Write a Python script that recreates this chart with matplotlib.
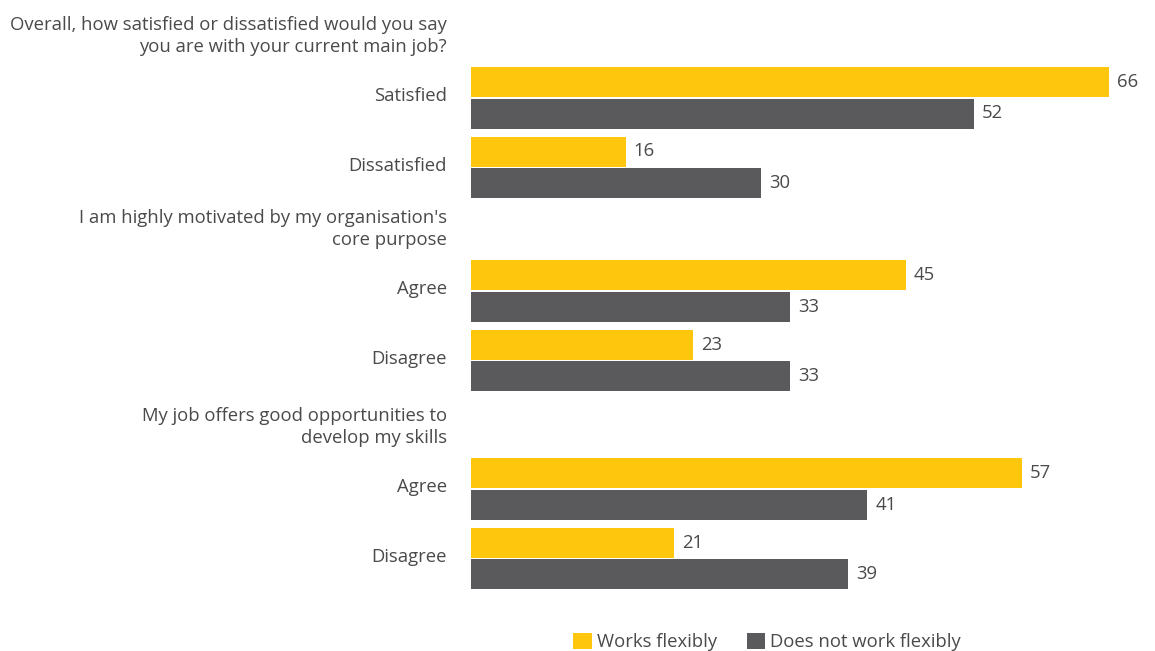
import matplotlib
matplotlib.use("Agg")
import matplotlib.pyplot as plt
from matplotlib.patches import Patch

plt.rcParams['font.family'] = ['Open Sans', 'DejaVu Sans']

# Survey data (percent of respondents)
sections = [
    "Overall, how satisfied or dissatisfied would you say\nyou are with your current main job?",
    "I am highly motivated by my organisation's\ncore purpose",
    "My job offers good opportunities to\ndevelop my skills",
]
categories = [
    ["Satisfied", "Dissatisfied"],
    ["Agree", "Disagree"],
    ["Agree", "Disagree"],
]
works_flexibly = [[66, 16], [45, 23], [57, 21]]
not_flexibly = [[52, 30], [33, 33], [41, 39]]
series_names = ["Works flexibly", "Does not work flexibly"]

YELLOW = "#FEC60C"
GREY = "#5A5A5C"
TEXT = "#4A4A4C"
FS = 13.3

W, H = 1155, 651
fig = plt.figure(figsize=(W / 100, H / 100), dpi=100)
fig.patch.set_facecolor("white")

# axes: x data starts at pixel 471, y data equals pixel rows from the top
x0 = 471
px_per_unit = 9.667
xmax = (W - x0) / px_per_unit
ax = fig.add_axes([x0 / W, 0, (W - x0) / W, 1])
ax.set_xlim(0, xmax)
ax.set_ylim(H, 0)
ax.axis("off")

bar_h = 30
pair_offset = 31.5
pair_pitch = 69.5
section_tops = [67, 260, 458]
heading_gap = 31

for s, top in enumerate(section_tops):
    # section heading (two lines, right aligned to the label column)
    ax.text(-24 / px_per_unit, top - heading_gap, sections[s], ha="right",
            va="center", fontsize=FS, color=TEXT, linespacing=1.35)
    for c, cat in enumerate(categories[s]):
        y_top = top + c * pair_pitch
        y1 = y_top + bar_h / 2
        y2 = y1 + pair_offset
        v1 = works_flexibly[s][c]
        v2 = not_flexibly[s][c]
        ax.barh(y1, v1, height=bar_h, color=YELLOW, left=0)
        ax.barh(y2, v2, height=bar_h, color=GREY, left=0)
        ax.text(v1 + 8 / px_per_unit, y1, f"{v1}", va="center", ha="left",
                fontsize=FS, color=TEXT)
        ax.text(v2 + 8 / px_per_unit, y2, f"{v2}", va="center", ha="left",
                fontsize=FS, color=TEXT)
        ax.text(-24 / px_per_unit, (y1 + y2) / 2 - 1.5, cat, ha="right",
                va="center", fontsize=FS, color=TEXT)

handles = [Patch(facecolor=YELLOW), Patch(facecolor=GREY)]
leg = fig.legend(handles, series_names, loc="center left",
                 bbox_to_anchor=(566 / W, 1 - 642 / H), ncol=2, frameon=False,
                 fontsize=FS, handlelength=1.0, handleheight=1.0,
                 handletextpad=0.28, columnspacing=1.6, borderaxespad=0)
for t in leg.get_texts():
    t.set_color(TEXT)

fig.savefig("out.png", dpi=100, facecolor="white")
